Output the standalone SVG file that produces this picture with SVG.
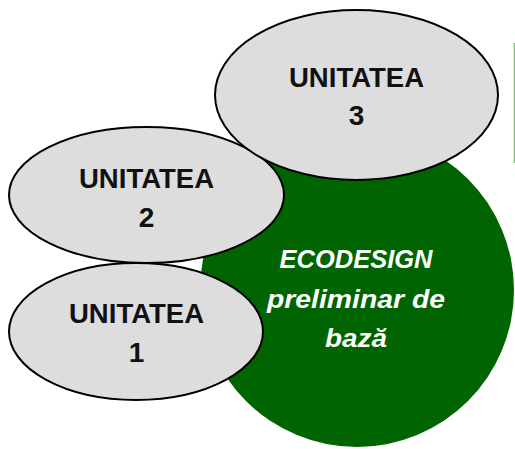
<svg xmlns="http://www.w3.org/2000/svg" width="515" height="449" viewBox="0 0 515 449">
<style>
.unit{fill:#dddddd;stroke:#000;stroke-width:2}
.ut{font-family:"Liberation Sans",Arial,sans-serif;font-weight:bold;font-size:28px;fill:#111;text-anchor:middle}
.ct{font-family:"Liberation Sans",Arial,sans-serif;font-weight:bold;font-style:italic;font-size:25px;fill:#fff;text-anchor:middle}
</style>
<rect width="515" height="449" fill="#fff"/>
<line x1="514.5" y1="43" x2="514.5" y2="163" stroke="#7fbf7f" stroke-width="1.5"/>
<g id="center">
<circle cx="357" cy="290" r="157" fill="#006400"/>
<text class="ct" x="356" y="268" textLength="153" lengthAdjust="spacingAndGlyphs">ECODESIGN</text>
<text class="ct" x="356" y="308" textLength="178" lengthAdjust="spacingAndGlyphs">preliminar de</text>
<text class="ct" x="356" y="347" textLength="62" lengthAdjust="spacingAndGlyphs">bază</text>
</g>
<g id="unit1">
<ellipse class="unit" cx="136" cy="331.5" rx="127" ry="68.5"/>
<text class="ut" x="136.5" y="323" textLength="135" lengthAdjust="spacingAndGlyphs">UNITATEA</text>
<text class="ut" x="136.5" y="362">1</text>
</g>
<g id="unit2">
<ellipse class="unit" cx="146.5" cy="195" rx="137.5" ry="68"/>
<text class="ut" x="146.5" y="188" textLength="135" lengthAdjust="spacingAndGlyphs">UNITATEA</text>
<text class="ut" x="146.5" y="227">2</text>
</g>
<g id="unit3">
<ellipse class="unit" cx="356.5" cy="95" rx="141.5" ry="85"/>
<text class="ut" x="356.5" y="87" textLength="135" lengthAdjust="spacingAndGlyphs">UNITATEA</text>
<text class="ut" x="356.5" y="125">3</text>
</g>
<g id="connectors"></g>
</svg>
